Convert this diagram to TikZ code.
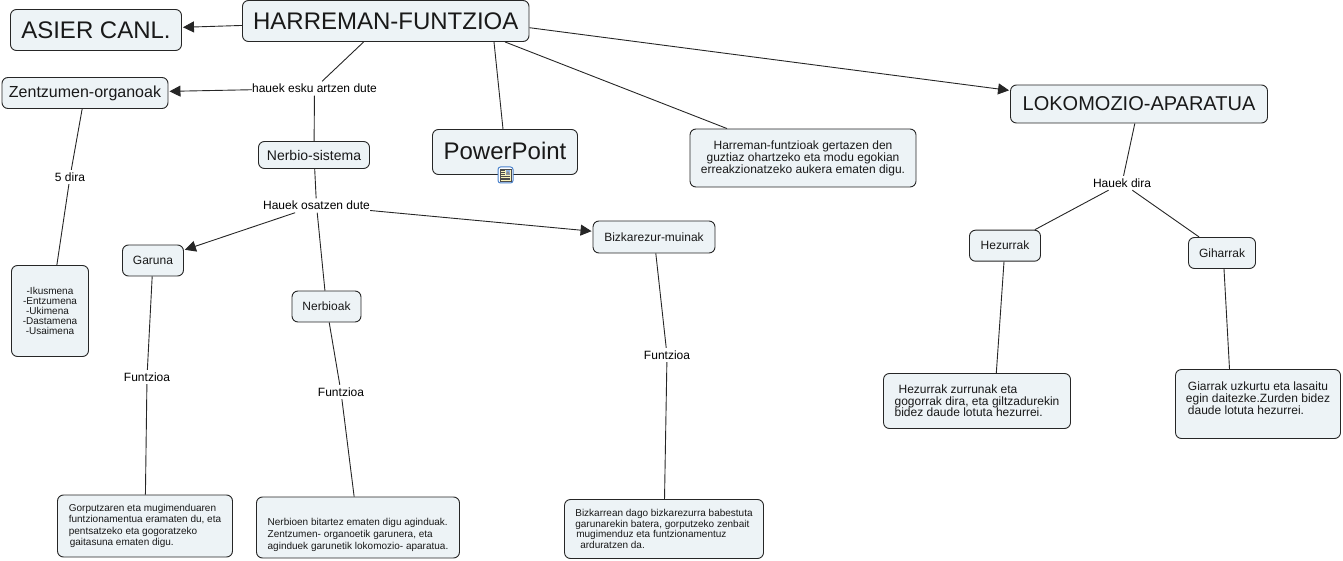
\documentclass[tikz,border=0pt]{standalone}
\usepackage{fontspec}
\setmainfont{Liberation Sans}
\usetikzlibrary{arrows.meta}
\newcommand{\fsize}[2]{\fontsize{#1}{#2}\selectfont}
\tikzset{
    >={Triangle[length=11pt,width=11pt]},
    concept/.style={draw=black!85, line width=0.9pt, fill=boxfill, rounded corners=6pt, inner sep=0pt, text=black!90},
    phrase/.style={inner sep=0pt, minimum height=14pt, fill=white, font=\fsize{12}{14}},
    link/.style={line width=0.9pt, black!85},
    arrowlink/.style={link, ->, shorten >=1pt}
}
\definecolor{boxfill}{HTML}{EDF3F6}
\definecolor{iconblue}{HTML}{4A82CC}
\definecolor{iconcream}{HTML}{FAF3BC}
\begin{document}
\begin{tikzpicture}[x=1pt, y=-1pt]
    \useasboundingbox (0,0) rectangle (1343,561);
    % top row
    \node[concept, minimum width=286.5pt, minimum height=41pt, font=\fsize{24}{26}] (harreman) at (385.75,21) {HARREMAN-FUNTZIOA};
    \node[concept, minimum width=171pt, minimum height=41pt, font=\fsize{24}{26}] (asier) at (96,30) {\raisebox{-1pt}{ASIER CANL.}};
    \node[concept, minimum width=166pt, minimum height=31pt, font=\fsize{16}{18}] (zentzumen) at (85,93) {Zentzumen-organoak};
    \node[concept, minimum width=111pt, minimum height=27pt, font=\fsize{14}{16}] (nerbiosistema) at (314,155) {Nerbio-sistema};
    \node[concept, minimum width=145pt, minimum height=45pt, font=\fsize{24}{26}] (powerpoint) at (505,152) {\raisebox{1.5pt}{PowerPoint}};
    \node[concept, minimum width=226pt, minimum height=58pt, align=center, font=\fsize{12}{12}] (azalpena) at (803,158)
        {Harreman-funtzioak gertazen den\\guztiaz ohartzeko eta modu egokian\\erreakzionatzeko aukera ematen digu.};
    \node[concept, minimum width=257pt, minimum height=38pt, font=\fsize{20}{22}] (lokomozio) at (1139,104) {LOKOMOZIO-APARATUA};
    % second row
    \node[concept, minimum width=122pt, minimum height=32pt, font=\fsize{12}{14}] (bizkarezur) at (654,237) {Bizkarezur-muinak};
    \node[concept, minimum width=61pt, minimum height=31pt, font=\fsize{12}{14}] (garuna) at (153,260.5) {\raisebox{-1pt}{Garuna}};
    \node[concept, minimum width=69pt, minimum height=31pt, font=\fsize{12}{14}] (nerbioak) at (326.5,306.5) {Nerbioak};
    \node[concept, minimum width=71pt, minimum height=31pt, font=\fsize{12}{14}] (hezurrak) at (1005,245.7) {Hezurrak};
    \node[concept, minimum width=67pt, minimum height=31pt, font=\fsize{12}{14}] (giharrak) at (1222,253) {Giharrak};
    % text boxes
    \node[concept, minimum width=77pt, minimum height=91pt, align=center, font=\fsize{10}{10}] (zentzumenak) at (50,311)
        {-Ikusmena\\-Entzumena\\-Ukimena\hspace*{5pt}\mbox{}\\-Dastamena\\-Usaimena};
    \node[concept, minimum width=175pt, minimum height=62pt, align=left, font=\fsize{10}{11.5}] (garunatxt) at (145,526)
        {Gorputzaren eta mugimenduaren\\funtzionamentua eramaten du, eta\\pentsatzeko eta gogoratzeko\\\hspace*{1pt}gaitasuna ematen digu.};
    \node[concept, minimum width=203pt, minimum height=61pt, align=left, font=\fsize{10}{12}] (nerbioaktxt) at (358,527.5)
        {\rule{0pt}{10pt}\\Nerbioen bitartez ematen digu agindua\mbox{k}.\\Zentzumen- organoetik garunera, eta\\aginduek garunetik lokomozio- aparatua.};
    \node[concept, minimum width=199pt, minimum height=59pt, align=left, font=\fsize{10}{10.7}] (bizkarezurtxt) at (664,529)
        {Bizkarrean dago bizkarezurra babestuta\\garunarekin batera, gorputzeko zenbait\\\hspace*{1pt}mugimenduz eta funtzionamentuz\\\hspace*{5pt}arduratzen da.};
    \node[concept, minimum width=187pt, minimum height=55pt, align=left, font=\fsize{12}{11.7}] (hezurraktxt) at (977,401)
        {\hspace*{4pt}Hezurrak zurrunak eta\\gogorrak dira, eta giltzadurekin\\bidez daude lotuta hezurrei.};
    \node[concept, minimum width=165pt, minimum height=69pt, align=left, font=\fsize{12}{11.7}] (giharraktxt) at (1258,404)
        {\hspace*{2pt}Giarrak uzkurtu eta lasaitu\\egin daitezke.Zurden bidez\\\hspace*{2pt}daude lotuta hezurrei.\\\mbox{}};
    % linking phrases
    \node[phrase] (esku) at (314.5,88.5) {hauek esku artzen dute};
    \node[phrase] (bost) at (70,177) {5 dira};
    \node[phrase] (osatzen) at (316.5,205.5) {Hauek osatzen dute};
    \node[phrase] (fgaruna) at (147,377) {Funtzioa};
    \node[phrase] (fnerbio) at (341,392) {Funtzioa};
    \node[phrase] (fmuin) at (667,355) {Funtzioa};
    \node[phrase] (dira) at (1122,183) {Hauek dira};
    % connectors
    \draw[arrowlink] (harreman) -- (asier);
    \draw[link] (harreman) -- (esku);
    \draw[arrowlink] (esku) -- (zentzumen);
    \draw[link] (esku) -- (nerbiosistema);
    \draw[link] (494,0 |- harreman.south) -- (503,0 |- powerpoint.north);
    \draw[link] (505,0 |- harreman.south) -- (727,0 |- azalpena.north);
    \draw[arrowlink] (harreman.east |- 0,27.7) -- (lokomozio.west |- 0,90.5);
    \draw[link] (zentzumen) -- (bost);
    \draw[link] (bost) -- (zentzumenak);
    \draw[link] (nerbiosistema) -- (osatzen);
    \draw[arrowlink] (osatzen) -- (garuna);
    \draw[arrowlink] (osatzen) -- (bizkarezur);
    \draw[link] (osatzen) -- (nerbioak);
    \draw[link] (garuna) -- (fgaruna);
    \draw[link] (fgaruna) -- (garunatxt);
    \draw[link] (nerbioak) -- (fnerbio);
    \draw[link] (fnerbio) -- (nerbioaktxt);
    \draw[link] (bizkarezur) -- (fmuin);
    \draw[link] (fmuin) -- (bizkarezurtxt);
    \draw[link] (lokomozio) -- (dira);
    \draw[link] (dira) -- (hezurrak);
    \draw[link] (dira) -- (giharrak);
    \draw[link] (1004,0 |- hezurrak.south) -- (996.3,0 |- hezurraktxt.north);
    \draw[link] (1224,0 |- giharrak.south) -- (1229.5,0 |- giharraktxt.north);
    % document icon under PowerPoint
    \node[draw=iconblue, line width=1pt, fill=white, rounded corners=2.5pt, minimum width=15pt, minimum height=16pt, inner sep=0pt] (pptdoc) at (505.5,175) {};
    \draw[black!70, line width=0.4pt, fill=iconcream] (500,168.8) rectangle (511,181.2);
    \fill[iconblue!60] (505.5,169.6) rectangle (510.2,174.6);
    \fill[black!45] (506.5,172.8) -- (508,171) -- (510.2,174.6) -- (506,174.6) -- cycle;
    \foreach \ypos in {170.5,172.5,174.5} {
        \draw[black!70, line width=0.4pt] (501,\ypos) -- (504.5,\ypos);
    }
    \foreach \ypos in {176.3,178,179.7} {
        \draw[black!70, line width=0.4pt] (501,\ypos) -- (510,\ypos);
    }
\end{tikzpicture}
\end{document}
